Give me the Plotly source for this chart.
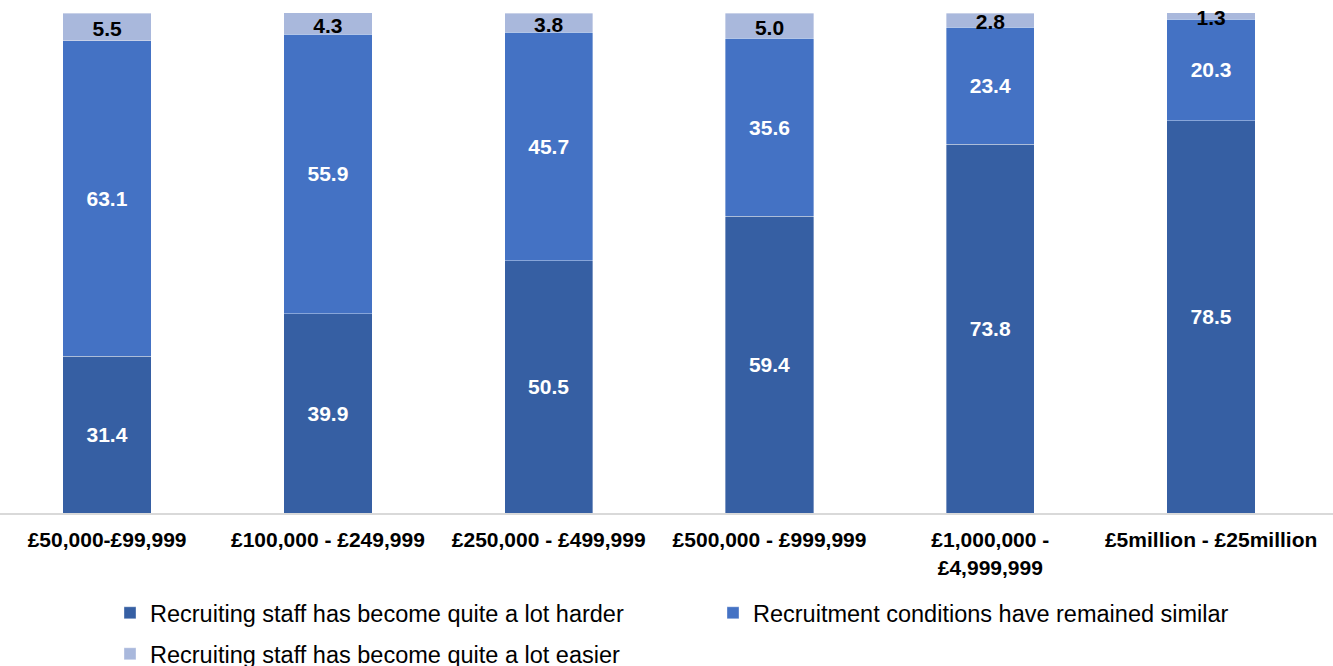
import plotly.graph_objects as go

categories = ["£50,000-£99,999", "£100,000 - £249,999", "£250,000 - £499,999",
              "£500,000 - £999,999", "£1,000,000 -<br>£4,999,999", "£5million - £25million"]
harder = [31.4, 39.9, 50.5, 59.4, 73.8, 78.5]
similar = [63.1, 55.9, 45.7, 35.6, 23.4, 20.3]
easier = [5.5, 4.3, 3.8, 5.0, 2.8, 1.3]

names = ["Recruiting staff has become quite a lot harder",
         "Recruitment conditions have remained similar",
         "Recruiting staff has become quite a lot easier"]
colors = ["#365FA3", "#4472C4", "#A9B8DC"]
text_colors = ["white", "white", "black"]
legends = ["legend", "legend2", "legend3"]

W, H = 1333, 666
label_font = dict(family="Liberation Sans, Arial", size=21, weight="bold")
fig = go.Figure()
for i, (vals, name, col, tc, lg) in enumerate(zip([harder, similar, easier], names, colors,
                                                   text_colors, legends)):
    inside = i < 2
    fig.add_trace(go.Bar(
        x=categories, y=vals, name=name,
        marker=dict(color=col, line=dict(color="rgba(255,255,255,0.6)", width=0.6)),
        width=0.4,
        text=[f"{v:.1f}" for v in vals] if inside else None,
        textposition="inside" if inside else "none", insidetextanchor="middle",
        textangle=0, constraintext="none", cliponaxis=False,
        textfont=dict(color=tc, **label_font),
        legend=lg, hoverinfo="skip",
    ))

# labels of the thin top segments, placed slightly below the segment middles
label_shift = 0.8
top_mid = [h + s + e / 2 - label_shift for h, s, e in zip(harder, similar, easier)]
fig.add_trace(go.Scatter(
    x=categories, y=top_mid, mode="text", text=[f"{v:.1f}" for v in easier],
    textposition="middle center", textfont=dict(color="black", **label_font),
    cliponaxis=False, showlegend=False, hoverinfo="skip",
))

def cx(pix):
    return pix / W

def cy(pix):
    return 1 - pix / H

leg_font = dict(family="Liberation Sans, Arial", size=23.5, color="black")
common = dict(xref="container", yref="container", xanchor="left", yanchor="middle",
              font=leg_font, bgcolor="rgba(0,0,0,0)")
fig.update_layout(
    barmode="stack",
    width=W, height=H,
    margin=dict(l=0, r=0, t=13, b=153, autoexpand=False),
    paper_bgcolor="white", plot_bgcolor="white",
    hovermode=False,
    xaxis=dict(range=[-0.485, 5.552], showline=True, linecolor="#D9D9D9", linewidth=2,
               showgrid=False, ticks="", automargin=False, ticklabelstandoff=7,
               tickfont=dict(family="Liberation Sans, Arial", size=21,
                             color="black", weight="bold")),
    yaxis=dict(range=[0, 100], visible=False, showgrid=False, automargin=False),
    legend=dict(x=cx(110), y=cy(613), **common),
    legend2=dict(x=cx(713), y=cy(613), **common),
    legend3=dict(x=cx(110), y=cy(654), **common),
    showlegend=True,
)
fig.write_html("out.html", config={"displayModeBar": False},
               post_script="document.body.style.margin='0';document.body.style.overflow='hidden';")
